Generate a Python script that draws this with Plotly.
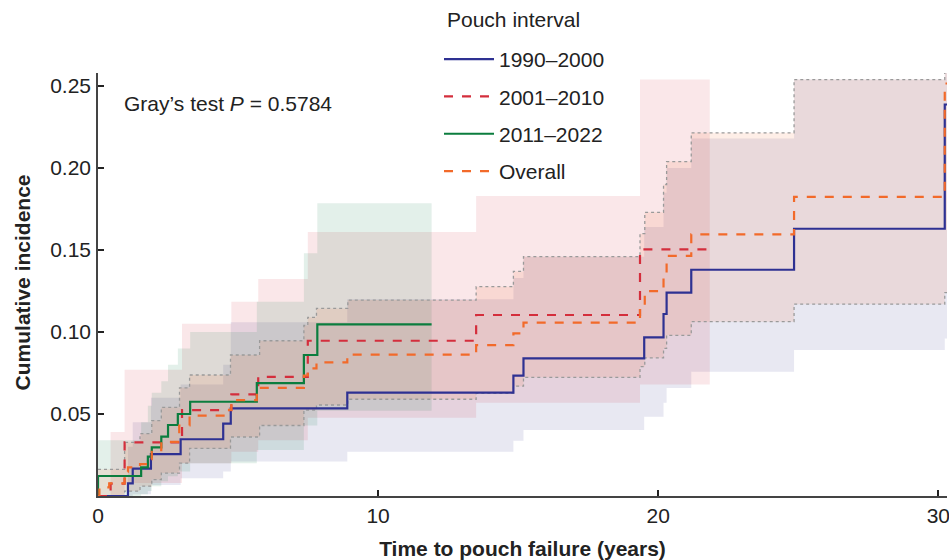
import plotly.graph_objects as go

# ---------------- data ----------------
series_names = ["1990–2000", "2001–2010", "2011–2022", "Overall"]
legend_title = "Pouch interval"
x_title = "Time to pouch failure (years)"
y_title = "Cumulative incidence"

# 1990–2000
t_9000 = [0, 1.07, 1.24, 1.89, 2.95, 4.47, 4.74, 8.9, 14.83, 15.19, 19.5, 20.19, 20.3, 21.18, 24.85, 30.23, 30.31]
ci_9000 = [0, 0.0077, 0.0167, 0.0255, 0.0346, 0.0441, 0.0535, 0.063, 0.0734, 0.084, 0.0968, 0.111, 0.124, 0.138, 0.163, 0.2388, 0.2388]
lo_9000 = [0, 0, 0.001, 0.0067, 0.0108, 0.015, 0.021, 0.027, 0.0337, 0.0402, 0.0484, 0.0569, 0.0659, 0.0758, 0.089, 0.096, 0.096]
hi_9000 = [0, 0.03, 0.045, 0.06, 0.068, 0.08, 0.106, 0.12, 0.133, 0.146, 0.164, 0.185, 0.200, 0.218, 0.254, 0.30, 0.30]

# 2001–2010
t_0110 = [0, 0.45, 0.95, 3.0, 4.76, 5.72, 7.49, 13.5, 19.35, 21.84]
ci_0110 = [0, 0.0075, 0.0327, 0.0524, 0.062, 0.0727, 0.0947, 0.1104, 0.1504, 0.1504]
lo_0110 = [0, 0, 0.008, 0.02, 0.027, 0.034, 0.0477, 0.0569, 0.068, 0.068]
hi_0110 = [0, 0.039, 0.077, 0.105, 0.1185, 0.1323, 0.161, 0.183, 0.254, 0.254]

# 2011–2022
t_1122 = [0, 0, 1.54, 1.78, 1.92, 2.26, 2.5, 2.85, 3.29, 5.67, 7.35, 7.83, 11.91]
ci_1122 = [0, 0.0122, 0.0175, 0.024, 0.0297, 0.0362, 0.0433, 0.05, 0.0575, 0.0689, 0.086, 0.1047, 0.1047]
lo_1122 = [0, 0, 0.001, 0.003, 0.006, 0.009, 0.012, 0.015, 0.02, 0.028, 0.043, 0.052, 0.052]
hi_1122 = [0, 0.034, 0.045, 0.055, 0.063, 0.07, 0.08, 0.09, 0.10, 0.1185, 0.148, 0.1785, 0.1785]

# Overall
t_all = [0, 0.05, 0.4, 0.95, 1.07, 1.5, 1.8, 1.92, 2.26, 2.9, 3.27, 4.6, 4.76, 5.67, 7.35, 7.49, 7.8,
         8.9, 13.5, 14.83, 15.19, 19.35, 19.52, 20.19, 20.3, 21.18, 24.85, 30.23, 30.31]
ci_all = [0, 0.0053, 0.0077, 0.0148, 0.0175, 0.0195, 0.0224, 0.028, 0.033, 0.043, 0.049, 0.0525, 0.0585,
          0.066, 0.0735, 0.0778, 0.0815, 0.0862, 0.092, 0.0992, 0.1057, 0.1144, 0.125, 0.134, 0.1465,
          0.1596, 0.1825, 0.2516, 0.2516]
t_all_band = [0, 0.95, 1.5, 1.92, 2.26, 2.91, 3.27, 4.73, 5.77, 7.35, 7.49, 7.8, 8.92, 13.5, 14.83, 15.19,
              19.35, 19.52, 20.19, 20.3, 21.18, 24.85, 30.23, 30.31]
lo_all = [0, 0.003, 0.006, 0.01, 0.014, 0.02, 0.029, 0.036, 0.043, 0.0524, 0.0524, 0.0555, 0.059, 0.0626,
          0.067, 0.0724, 0.0789, 0.0843, 0.09, 0.098, 0.1063, 0.117, 0.124, 0.124]
hi_all = [0.0163, 0.0327, 0.038, 0.046, 0.054, 0.066, 0.0738, 0.086, 0.0947, 0.104, 0.109, 0.1144, 0.1195,
          0.1277, 0.137, 0.146, 0.160, 0.173, 0.19, 0.204, 0.2215, 0.254, 0.30, 0.30]

x_ticks = [0, 10, 20, 30]
y_ticks = [0.05, 0.10, 0.15, 0.20, 0.25]
y_tick_labels = ["0.05", "0.10", "0.15", "0.20", "0.25"]
p_value_text = "Gray’s test <i>P</i> = 0.5784"

# ---------------- styles ----------------
line_colors = ["#2e3192", "#d42e3c", "#0b7d3e", "#f26a2a"]
fill_colors = ["rgba(43,47,138,0.11)", "rgba(214,40,57,0.11)",
               "rgba(0,122,61,0.11)", "rgba(242,101,34,0.11)"]
dashes = ["solid", "dash", "solid", "dash"]
FS = 21

bands = [(t_9000, lo_9000, hi_9000), (t_0110, lo_0110, hi_0110),
         (t_1122, lo_1122, hi_1122), (t_all_band, lo_all, hi_all)]
lines = [(t_9000, ci_9000), (t_0110, ci_0110), (t_1122, ci_1122), (t_all, ci_all)]

fig = go.Figure()

for i, (t, lo, hi) in enumerate(bands):
    overall = (i == 3)
    border = dict(color="#9a9a9a", width=1.3, dash="dot", shape="hv") if overall else dict(width=0, shape="hv")
    fig.add_trace(go.Scatter(x=t, y=lo, mode="lines", line=border, showlegend=False, hoverinfo="skip"))
    fig.add_trace(go.Scatter(x=t, y=hi, mode="lines", line=border, fill="tonexty",
                             fillcolor=fill_colors[i], showlegend=False, hoverinfo="skip"))

for i, (t, y) in enumerate(lines):
    fig.add_trace(go.Scatter(x=t, y=y, mode="lines", name=series_names[i],
                             legendgroup=series_names[i],
                             line=dict(color=line_colors[i], width=2.2, dash=dashes[i], shape="hv")))

fig.add_annotation(x=0.86, y=0.2396, xref="x", yref="y", xanchor="left", yanchor="middle",
                   text=p_value_text, showarrow=False, font=dict(size=FS, color="#222"))
fig.add_annotation(x=0.4087, y=1.1253, xref="paper", yref="paper", xanchor="left", yanchor="middle",
                   text=legend_title, showarrow=False, font=dict(size=FS, color="#222"))
fig.add_annotation(x=-0.0895, y=0.505, xref="paper", yref="paper", xanchor="center", yanchor="middle",
                   text="<b>" + y_title + "</b>", textangle=-90, showarrow=False,
                   font=dict(size=FS, color="#222"))

fig.update_layout(
    width=949, height=560,
    margin=dict(l=98, r=2, t=73, b=64, autoexpand=False),
    paper_bgcolor="white", plot_bgcolor="white",
    font=dict(family="Liberation Sans, Arial, sans-serif", size=FS, color="#222"),
    legend=dict(x=0.4626, y=0.9304, xref="container", yref="container", xanchor="left", yanchor="top",
                font=dict(size=FS), itemwidth=50, tracegroupgap=7,
                bgcolor="rgba(0,0,0,0)"),
    xaxis=dict(range=[0, 30.31], tickvals=x_ticks, ticks="inside", ticklen=6, tickwidth=1.5,
               tickcolor="#222", showline=True, linecolor="#444", linewidth=1.5, automargin=True,
               showgrid=False, zeroline=False, tickfont=dict(size=FS), ticklabeloverflow="allow",
               title=dict(text="<b>" + x_title + "</b>", font=dict(size=FS), standoff=15)),
    yaxis=dict(range=[0, 0.258], tickvals=y_ticks, ticktext=y_tick_labels, ticks="inside", ticklen=6,
               tickwidth=1.5, tickcolor="#222", showline=True, linecolor="#444", linewidth=1.5,
               automargin=False, showgrid=False, zeroline=False, tickfont=dict(size=FS),
               ticklabelstandoff=1),
)

# remove the default page margin so the 949x560 figure fills the window exactly
fig.write_html("out.html", config={"displayModeBar": False},
               post_script="document.body.style.margin='0';document.body.style.overflow='hidden';")
